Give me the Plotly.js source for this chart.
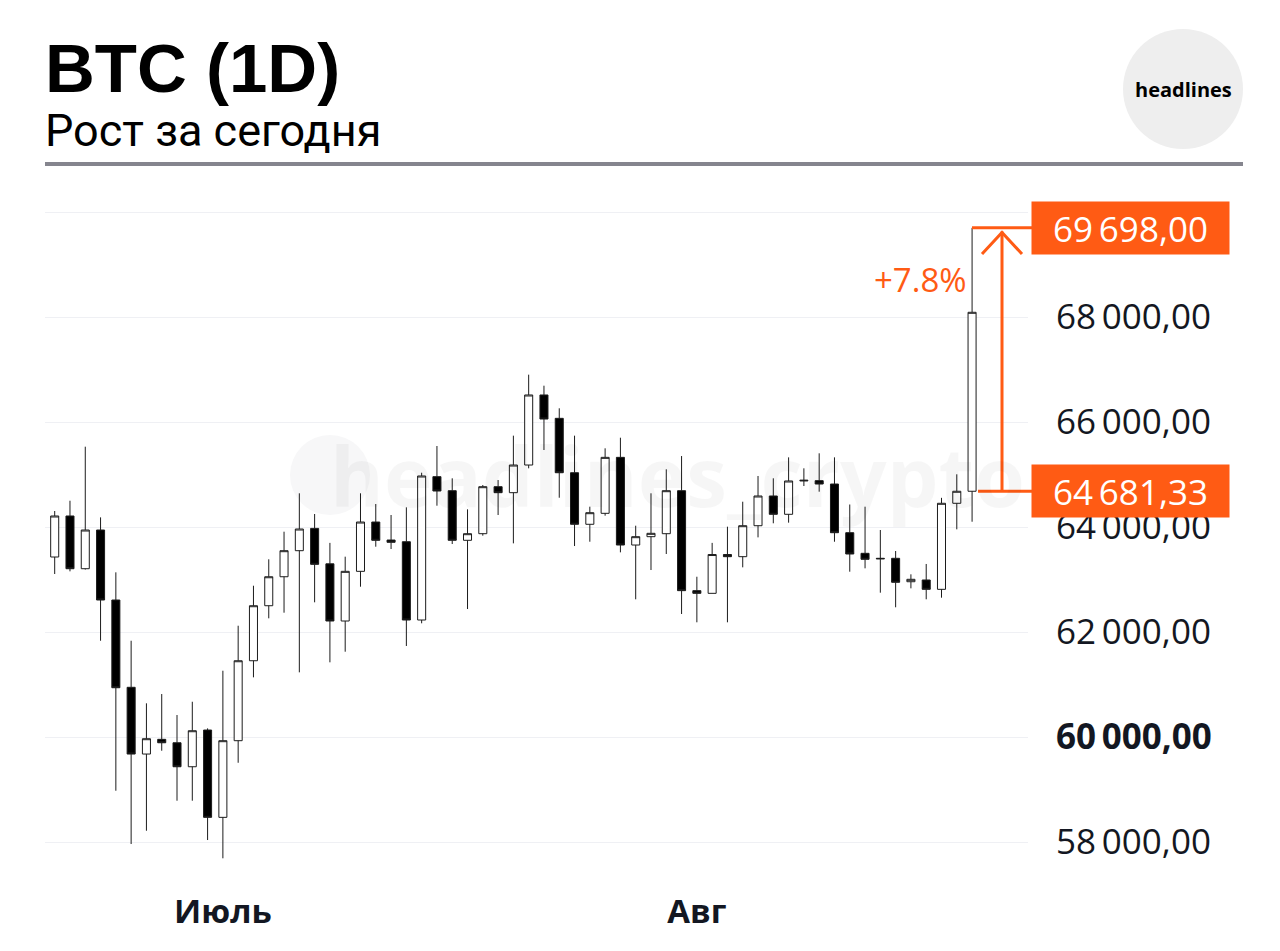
<!DOCTYPE html>
<html>
<head>
<meta charset="utf-8">
<script src="https://cdn.plot.ly/plotly-3.0.1.min.js"></script>
<style>html,body{margin:0;padding:0;background:#fff;}#chart{width:1280px;height:951px;}</style>
</head>
<body>
<div id="chart"></div>
<script>
const dates = ['2024-06-19','2024-06-20','2024-06-21','2024-06-22','2024-06-23','2024-06-24','2024-06-25','2024-06-26','2024-06-27','2024-06-28','2024-06-29','2024-06-30',
  '2024-07-01','2024-07-02','2024-07-03','2024-07-04','2024-07-05','2024-07-06','2024-07-07','2024-07-08','2024-07-09','2024-07-10','2024-07-11','2024-07-12','2024-07-13','2024-07-14','2024-07-15','2024-07-16','2024-07-17','2024-07-18','2024-07-19','2024-07-20','2024-07-21','2024-07-22','2024-07-23','2024-07-24','2024-07-25','2024-07-26','2024-07-27','2024-07-28','2024-07-29','2024-07-30','2024-07-31',
  '2024-08-01','2024-08-02','2024-08-03','2024-08-04','2024-08-05','2024-08-06','2024-08-07','2024-08-08','2024-08-09','2024-08-10','2024-08-11','2024-08-12','2024-08-13','2024-08-14','2024-08-15','2024-08-16','2024-08-17','2024-08-18','2024-08-19'];
const opens  = [62838,63429,64210,63206,63943,62610,60947,59676,59956,59891,59434,60133,
  58470,59930,61453,62501,63053,63549,63974,63299,62210,63156,64095,63752,63720,62229,64959,64692,63747,63873,64768,64654,65181,66515,66070,65034,64052,64261,65327,63657,63816,63873,64692,
  62788,62737,63476,63435,64025,64591,64242,64877,64883,64819,63892,63499,63404,63404,62958,62991,62813,64452,64681.33];
const highs  = [63600,64305,64501,65530,64184,63137,61834,60642,60819,60419,60672,60165,
  61263,62120,62882,63385,63911,64642,64248,63698,63435,64642,64438,64229,64375,65034,65543,64928,64337,64800,64895,65740,66902,66692,66261,65740,64387,65499,65701,64025,64642,65099,65352,
  63053,63698,64006,64482,64972,64928,65327,65118,65404,65327,64429,64387,63943,63543,63099,63296,64556,65004,69698];
const lows   = [62600,63105,63156,63190,61834,58977,57962,58215,59739,58787,58787,58038,
  57690,59510,61137,62261,62368,61232,62566,61423,61625,62863,63625,63581,61734,62166,64406,63676,62438,63835,64229,63689,65118,65467,64558,63638,63720,64216,63518,62623,63181,63486,62343,
  62185,62737,62185,63232,63803,64071,64083,64781,64673,63720,63149,63213,62749,62471,62832,62623,62654,63956,64101];
const closes = [63448,64210,63206,63943,62610,60939,59676,59968,59891,59434,60120,58470,
  59930,61453,62501,63053,63549,63962,63289,62210,63156,64095,63747,63709,62229,64972,64686,63747,63873,64768,64654,65181,66515,66057,65034,64052,64273,65327,63657,63816,63880,64692,62788,
  62737,63476,63435,64025,64591,64242,64877,64890,64819,63892,63486,63385,63395,62947,63004,62813,64452,64681.33,68090];

const xTickVals = ['2024-07-01','2024-08-01'];
const xTickText = ['Июль','Авг'];
const yTickVals = [58000,60000,62000,64000,66000,68000,70000];
const yTickText = ['58\u2009000,00','<b>60\u2009000,00</b>','62\u2009000,00','64\u2009000,00','66\u2009000,00','68\u2009000,00',''];

const titleText = 'BTC (1D)';
const subtitleText = 'Рост за сегодня';
const logoText = 'headlines';
const watermarkText = 'headlines_crypto';

const ORANGE = '#ff5b14';
const INK = '#131722';

function fmtPrice(v){
  const s = v.toFixed(2).split('.');
  const intPart = s[0].replace(/\B(?=(\d{3})+(?!\d))/g, '\u2009');
  return intPart + ',' + s[1];
}
const last = closes.length - 1;
const peak = highs[last];
const base = closes[last-1];
const pct = ((peak/base - 1)*100).toFixed(1);

const trace = {
  type: 'candlestick',
  x: dates, open: opens, high: highs, low: lows, close: closes,
  increasing: {line: {color: '#1c1c1c', width: 1}, fillcolor: '#ffffff'},
  decreasing: {line: {color: '#1c1c1c', width: 1}, fillcolor: '#000000'},
  whiskerwidth: 0,
  hoverinfo: 'skip',
  showlegend: false
};

// pixel helpers for paper coordinates (layout only)
const L = 45, R = 1028, T = 195, B = 875;
const px = x => (x - L) / (R - L);
const py = y => (B - y) / (B - T);

const layout = {
  width: 1280, height: 951,
  margin: {l: L, r: 1280 - R, t: T, b: 951 - B, pad: 0},
  paper_bgcolor: '#ffffff', plot_bgcolor: '#ffffff',
  boxgap: 0.25,
  showlegend: false,
  xaxis: {
    type: 'date',
    range: ['2024-06-19 08:47', '2024-08-22 15:47'],
    rangeslider: {visible: false},
    showgrid: false, zeroline: false, showline: false,
    tickvals: xTickVals, ticktext: xTickText,
    ticks: '', ticklabelstandoff: 14,
    tickfont: {family: 'Open Sans, Noto Sans, sans-serif', size: 33, color: INK, weight: 'bold'},
    fixedrange: true
  },
  yaxis: {
    side: 'right',
    range: [57372, 70324],
    tickvals: yTickVals, ticktext: yTickText,
    showgrid: true, gridcolor: '#eff0f4', gridwidth: 1,
    zeroline: false, showline: false,
    ticks: '', ticklabelstandoff: 27,
    tickfont: {family: 'Open Sans, Noto Sans, sans-serif', size: 35, color: INK},
    fixedrange: true
  },
  shapes: [
    {type: 'circle', xref: 'paper', yref: 'paper', layer: 'below',
     x0: px(290), x1: px(370), y0: py(515), y1: py(435), fillcolor: '#f7f7f8', line: {width: 0}},
    {type: 'line', xref: 'paper', yref: 'paper', x0: px(45), x1: px(1243), y0: py(164), y1: py(164),
     line: {color: '#85858e', width: 4}},
    {type: 'circle', xref: 'paper', yref: 'paper', x0: px(1123), x1: px(1243), y0: py(149), y1: py(29),
     fillcolor: '#eeeeee', line: {width: 0}},
    {type: 'line', xref: 'paper', yref: 'y', x0: px(972), x1: px(1032), y0: peak, y1: peak,
     line: {color: ORANGE, width: 3}},
    {type: 'line', xref: 'paper', yref: 'y', x0: px(978), x1: px(1032), y0: base, y1: base,
     line: {color: ORANGE, width: 3}},
    {type: 'line', xref: 'paper', yref: 'y', x0: px(1002), x1: px(1002), y0: base, y1: 69630,
     line: {color: ORANGE, width: 3}},
    {type: 'path', xref: 'paper', yref: 'y',
     path: 'M ' + px(982) + ',69200 L ' + px(1002) + ',69610 L ' + px(1022) + ',69200',
     line: {color: ORANGE, width: 3}}
  ],
  annotations: [
    {xref: 'paper', yref: 'paper', x: px(677), y: py(475), xanchor: 'center', yanchor: 'middle',
     text: watermarkText, showarrow: false,
     font: {family: 'Open Sans, sans-serif', size: 82, color: 'rgba(0,0,0,0.035)', weight: 'bold'}},
    {xref: 'paper', yref: 'paper', x: px(43), y: py(68), xanchor: 'left', yanchor: 'middle',
     text: '<b>' + titleText + '</b>', showarrow: false,
     font: {family: 'Liberation Sans, Arial, sans-serif', size: 69, color: '#000000'}},
    {xref: 'paper', yref: 'paper', x: px(43), y: py(131), xanchor: 'left', yanchor: 'middle',
     text: subtitleText, showarrow: false,
     font: {family: 'Roboto, Liberation Sans, sans-serif', size: 45, color: '#000000'}},
    {xref: 'paper', yref: 'paper', x: px(1183), y: py(89), xanchor: 'center', yanchor: 'middle',
     text: '<b>' + logoText + '</b>', showarrow: false,
     font: {family: 'Open Sans, sans-serif', size: 20, color: '#000000'}},
    {xref: 'paper', yref: 'y', x: px(1031), y: peak, xanchor: 'left', yanchor: 'middle',
     text: fmtPrice(peak), showarrow: false, bgcolor: ORANGE, width: 189, height: 44, borderpad: 4,
     align: 'center', valign: 'middle',
     font: {family: 'Open Sans, Noto Sans, sans-serif', size: 35, color: '#ffffff'}},
    {xref: 'paper', yref: 'y', x: px(1031), y: base, xanchor: 'left', yanchor: 'middle',
     text: fmtPrice(base), showarrow: false, bgcolor: ORANGE, width: 189, height: 44, borderpad: 4,
     align: 'center', valign: 'middle',
     font: {family: 'Open Sans, Noto Sans, sans-serif', size: 35, color: '#ffffff'}},
    {xref: 'paper', yref: 'y', x: px(969), y: 68724, xanchor: 'right', yanchor: 'middle',
     text: '+' + pct + '%', showarrow: false,
     font: {family: 'Open Sans, Noto Sans, sans-serif', size: 33, color: ORANGE}}
  ]
};

Plotly.newPlot('chart', [trace], layout, {displayModeBar: false, staticPlot: true});
</script>
</body>
</html>
